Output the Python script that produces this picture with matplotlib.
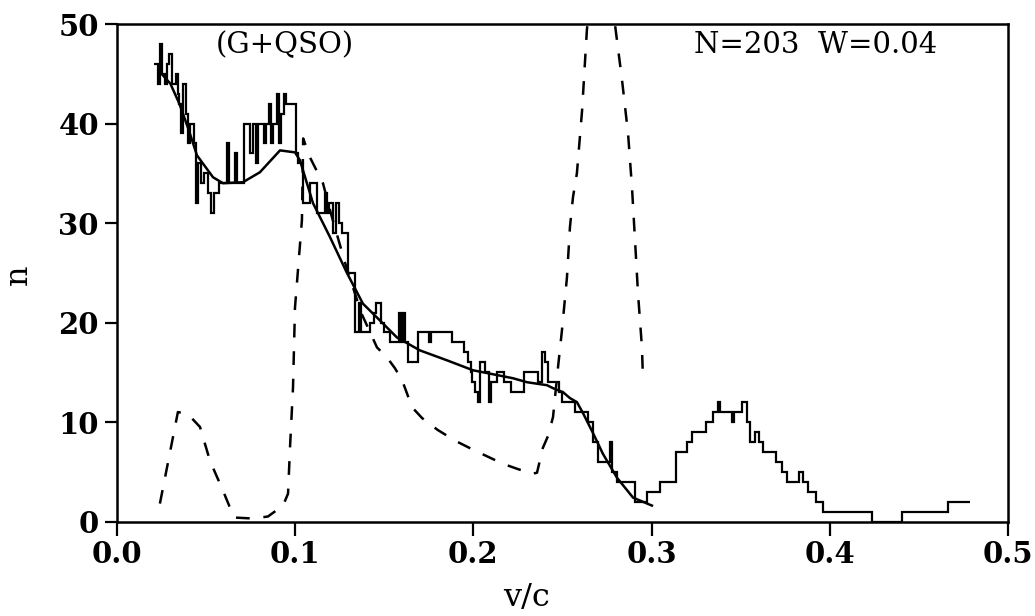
import matplotlib
matplotlib.use('Agg')
import matplotlib.pyplot as plt

# ---- data ----
hist_left = [0.021, 0.023, 0.024, 0.025, 0.027, 0.028, 0.029, 0.031, 0.033, 0.034,
             0.035, 0.036, 0.037, 0.039, 0.040, 0.041, 0.043, 0.0445, 0.0455, 0.047,
             0.049, 0.051, 0.053, 0.0545, 0.057, 0.062, 0.063, 0.0665, 0.0675, 0.0715,
             0.0745, 0.0765, 0.078, 0.079, 0.0825, 0.0835, 0.0855, 0.0865, 0.0875, 0.0900,
             0.0910, 0.0920, 0.0935, 0.0950, 0.1003, 0.1015, 0.1046, 0.1083, 0.1121, 0.1170,
             0.1180, 0.1190, 0.1215, 0.1230, 0.1245, 0.1265, 0.1298, 0.1336, 0.1360, 0.1372,
             0.1420, 0.1440, 0.1455, 0.1480, 0.1500, 0.1532, 0.1580, 0.1592, 0.1605, 0.1618,
             0.1635, 0.1691, 0.1750, 0.1762, 0.1878, 0.1950, 0.1970, 0.1985, 0.1995, 0.2010,
             0.2025, 0.2040, 0.2065, 0.2085, 0.2100, 0.2130, 0.2170, 0.2210, 0.2285, 0.2360,
             0.2385, 0.2400, 0.2420, 0.2480, 0.2495, 0.2570, 0.2645, 0.2673, 0.2701, 0.2765,
             0.2776, 0.2804, 0.2907, 0.2972, 0.3050, 0.3135, 0.3200, 0.3228, 0.3305, 0.3345,
             0.3370, 0.3385, 0.3450, 0.3460, 0.3505, 0.3537, 0.3555, 0.3580, 0.3605, 0.3625,
             0.3700, 0.3730, 0.3758, 0.3830, 0.3850, 0.3880, 0.3925, 0.3964, 0.4235, 0.4403,
             0.4665]
hist_n = [46, 44, 48, 45, 44, 46, 47, 44, 45, 43,
          42, 39, 44, 41, 38, 40, 38, 32, 36, 34,
          35, 33, 31, 33, 34, 38, 34, 37, 34, 40,
          37, 40, 36, 40, 38, 40, 42, 38, 40, 43,
          38, 41, 43, 42, 37, 36, 32, 34, 31, 33,
          31, 32, 29, 32, 30, 29, 25, 19, 22, 19,
          20, 21, 22, 20, 19, 18, 21, 18, 21, 18,
          16, 19, 18, 19, 18, 17, 16, 15, 14, 13,
          12, 16, 15, 12, 14, 15, 14, 13, 15, 14,
          17, 16, 14, 13, 12, 11, 10, 8, 6, 8,
          5, 4, 2, 3, 4, 7, 8, 9, 10, 11,
          12, 11, 10, 11, 12, 10, 8, 9, 8, 7,
          6, 5, 4, 5, 4, 3, 2, 1, 0, 1,
          2]
hist_end = 0.4787

smooth_x = [0.025, 0.030, 0.035, 0.040, 0.0449, 0.0539, 0.0595, 0.0707, 0.0802, 0.0915,
            0.0999, 0.1027, 0.110, 0.1195, 0.129, 0.138, 0.1476, 0.1571, 0.170, 0.1852,
            0.1998, 0.2222, 0.2301, 0.2413, 0.2447, 0.2503, 0.2542, 0.2581, 0.2615, 0.2671,
            0.2727, 0.2806, 0.2896, 0.3002]
smooth_n = [45.0, 44.0, 42.0, 39.5, 36.8, 34.6, 34.0, 34.1, 35.1, 37.3,
            37.1, 36.3, 32.0, 28.6, 25.0, 21.9, 20.2, 18.5, 17.2, 16.2,
            15.2, 14.4, 14.0, 13.7, 13.4, 13.0, 12.4, 12.0, 10.9, 8.9,
            6.8, 4.4, 2.4, 1.6]

dash_x = [0.0241, 0.0342, 0.0398, 0.0466, 0.0522, 0.0595, 0.0657, 0.0763, 0.0847, 0.0932,
          0.0960, 0.0971, 0.0988, 0.0999, 0.1038, 0.1045, 0.1083, 0.1156, 0.1200, 0.1280,
          0.1370, 0.1459, 0.1515, 0.1560, 0.1600, 0.1627, 0.1655, 0.1712, 0.1800, 0.1900,
          0.2000, 0.2166, 0.2245, 0.2329, 0.2357, 0.2390, 0.2419, 0.2447, 0.2475, 0.2497,
          0.2525, 0.2542, 0.2559, 0.2581, 0.2610, 0.2637, 0.2660, 0.2715, 0.2770, 0.2795,
          0.2834, 0.2868, 0.2890, 0.2907, 0.2924, 0.2946, 0.2952]
dash_n = [1.8, 11.0, 10.8, 9.5, 6.1, 3.1, 0.4, 0.3, 0.5, 1.6,
          2.8, 7.4, 13.5, 21.5, 30.3, 38.5, 36.6, 34.0, 31.0, 26.0,
          21.0, 17.5, 16.5, 15.4, 14.2, 12.9, 11.5, 10.4, 9.2, 8.1,
          7.2, 5.8, 5.3, 4.8, 4.9, 7.4, 8.6, 10.5, 15.5, 19.2,
          24.5, 29.6, 32.6, 35.0, 41.3, 49.4, 53.5, 56.0, 53.0, 49.9,
          44.4, 39.0, 33.6, 28.3, 22.9, 17.5, 14.2]

x_ticks = [0.0, 0.1, 0.2, 0.3, 0.4, 0.5]
x_tick_labels = ['0.0', '0.1', '0.2', '0.3', '0.4', '0.5']
y_ticks = [0, 10, 20, 30, 40, 50]
y_tick_labels = ['0', '10', '20', '30', '40', '50']

label_left = '(G+QSO)'
label_right = 'N=203  W=0.04'

# ---- figure ----
plt.rcParams['font.family'] = ['DejaVu Serif']
fig = plt.figure(figsize=(10.35, 6.16), dpi=100)
ax = fig.add_axes([0.1130, 0.1534, 0.8609, 0.8076])

ax.stairs(hist_n, hist_left + [hist_end], baseline=None, color='black', lw=1.6)
ax.plot(smooth_x, smooth_n, color='black', lw=1.8)
ax.plot(dash_x, dash_n, color='black', lw=1.8, ls=(0, (5.5, 5.5)))

ax.set_xlim(0, 0.5)
ax.set_ylim(0, 50)
ax.set_xticks(x_ticks)
ax.set_xticklabels(x_tick_labels, fontsize=21, fontweight='bold')
ax.set_yticks(y_ticks)
ax.set_yticklabels(y_tick_labels, fontsize=21, fontweight='bold')
ax.tick_params(axis='x', direction='out', length=10, width=1.6, pad=3)
ax.tick_params(axis='y', direction='out', length=9, width=1.6, pad=4)
for s in ax.spines.values():
    s.set_linewidth(1.8)

ax.text(0.094, 47.9, label_left, fontsize=21, ha='center', va='center')
ax.text(0.392, 47.9, label_right, fontsize=21, ha='center', va='center')

ax.set_xlabel('v/c', fontsize=23)
ax.xaxis.label.set_va('center')
ax.xaxis.set_label_coords(0.460, -0.152)
ax.set_ylabel('n', fontsize=23)
ax.yaxis.label.set_va('center')
ax.yaxis.set_label_coords(-0.111, 0.4955)

fig.savefig('out.png', dpi=100)
